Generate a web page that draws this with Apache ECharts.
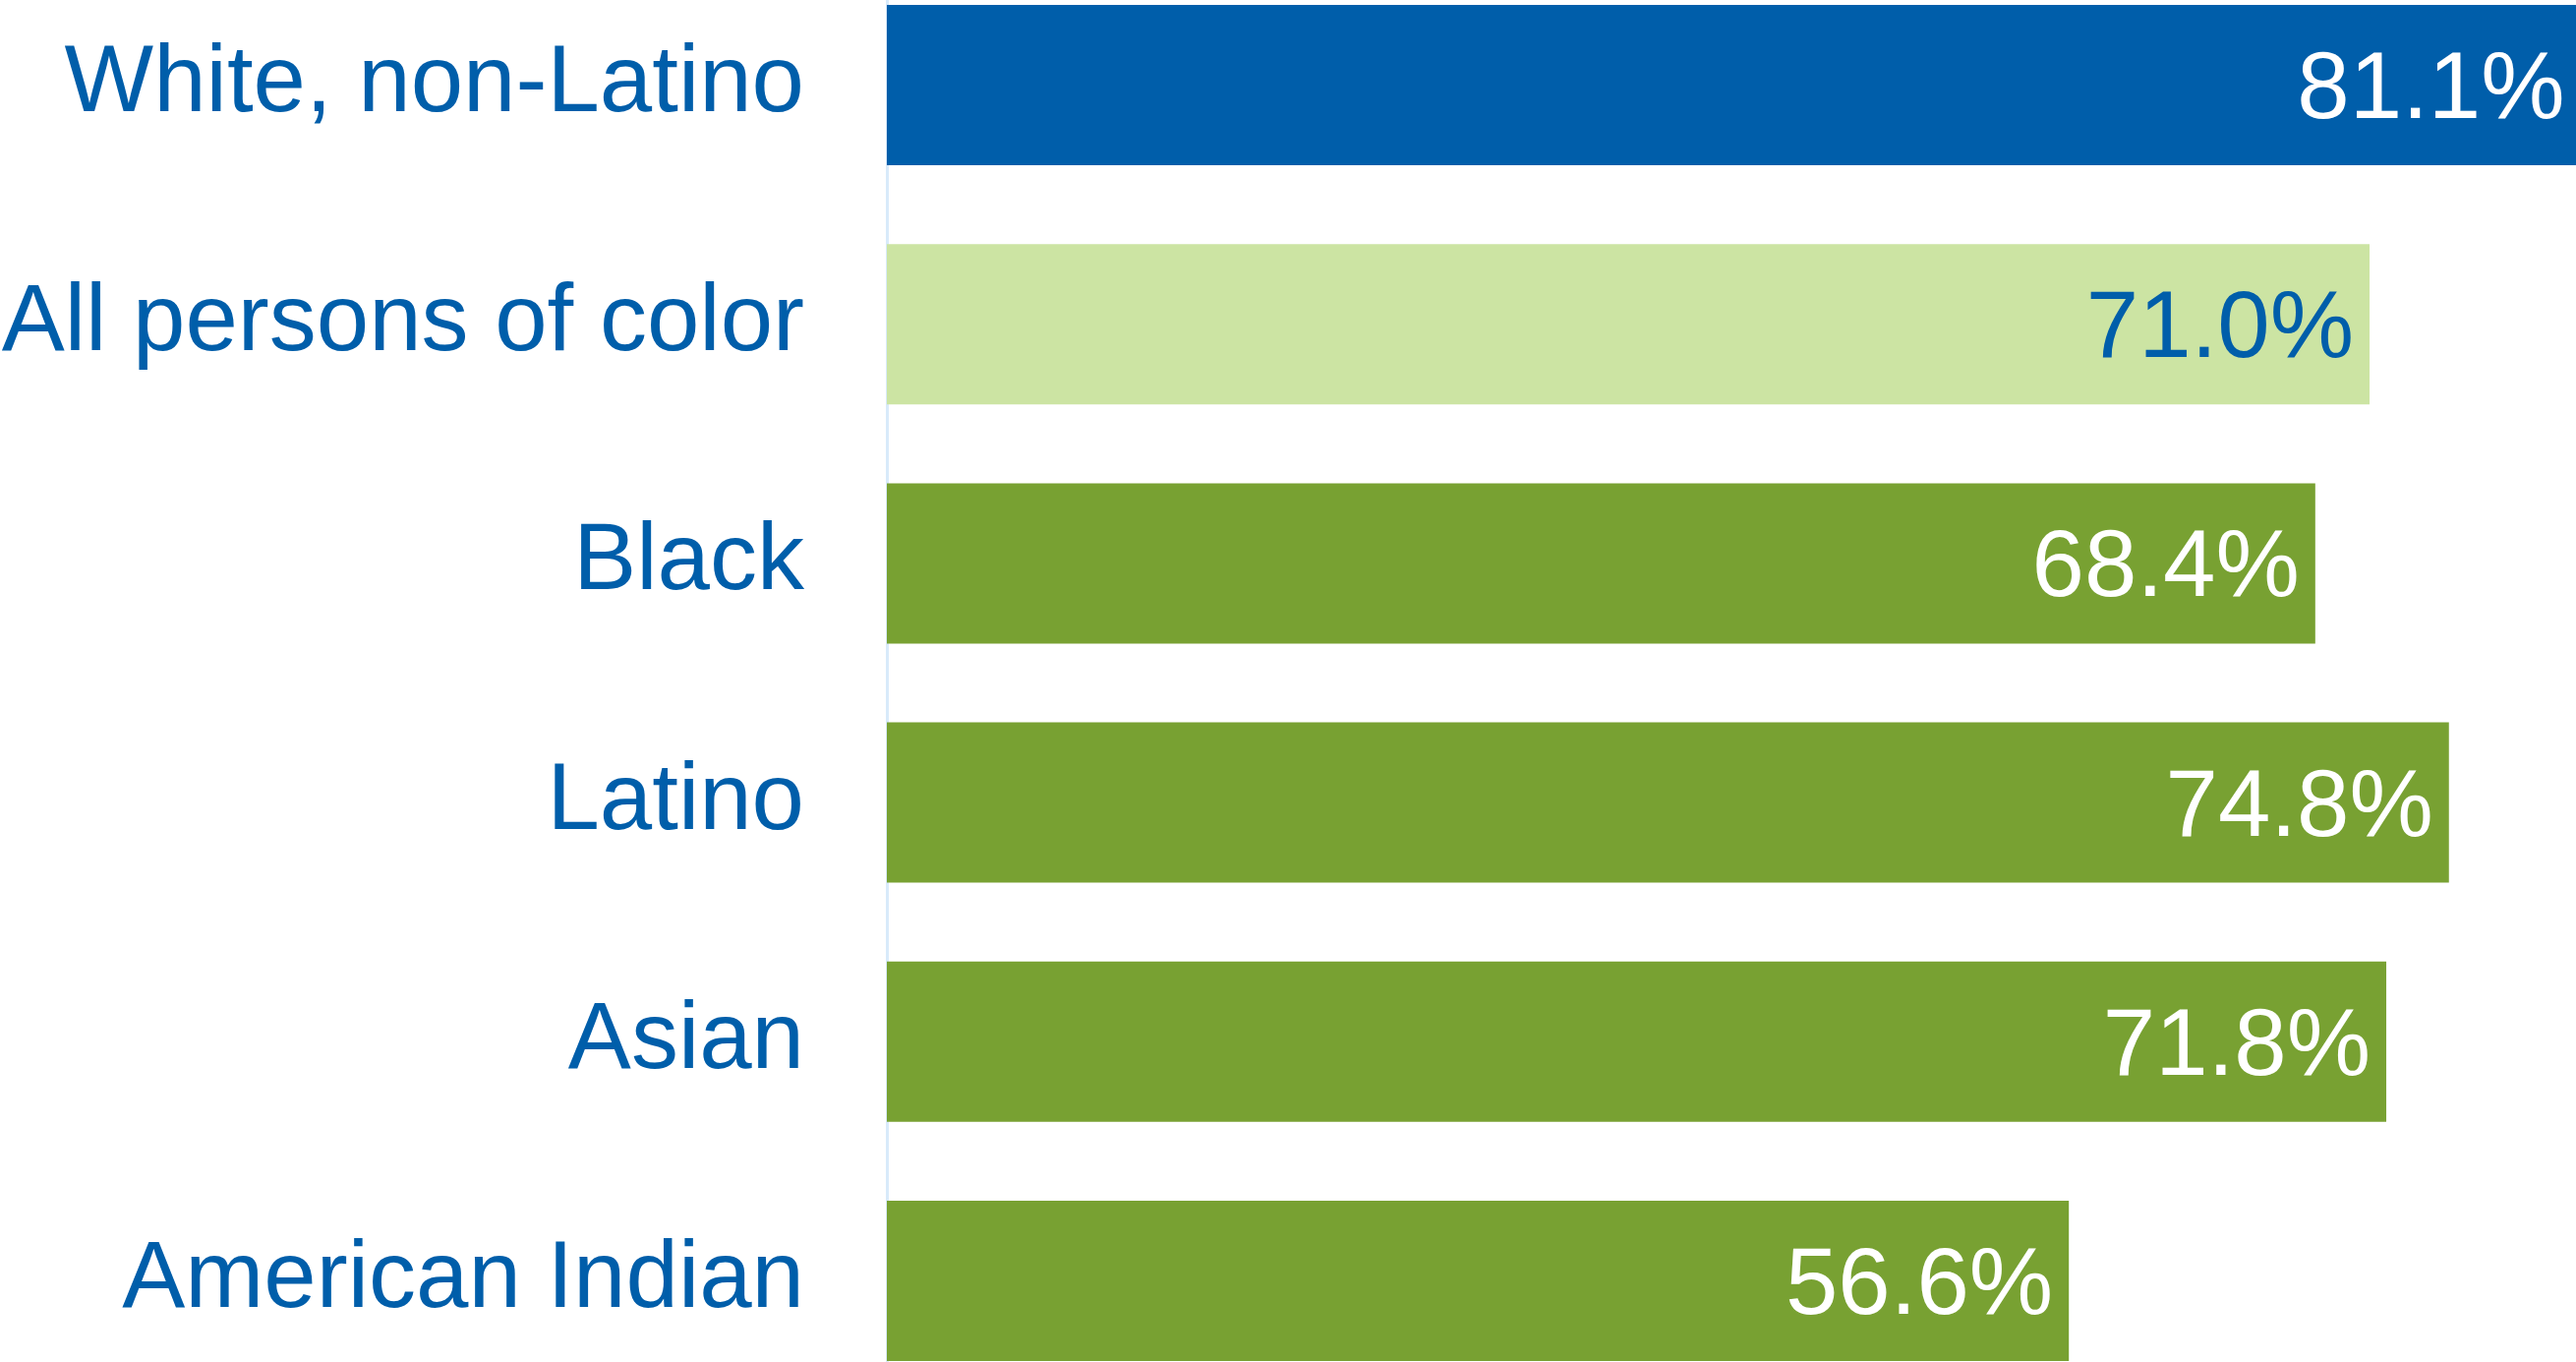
<!DOCTYPE html>
<html>
<head>
<meta charset="utf-8">
<style>
  html, body { margin: 0; padding: 0; background: #ffffff; }
  #chart { width: 2620px; height: 1385px; }
</style>
<script src="https://cdn.jsdelivr.net/npm/echarts@6/dist/echarts.min.js"></script>
</head>
<body>
<div id="chart"></div>
<script>
// Group names, top to bottom
const categories = [
  'White, non-Latino',
  'All persons of color',
  'Black',
  'Latino',
  'Asian',
  'American Indian'
];
// Rates in percent
const values = [81.1, 71.0, 68.4, 74.8, 71.8, 56.6];
// Bar fill per group
const barColors = ['#005eaa', '#cce4a3', '#78a132', '#78a132', '#78a132', '#78a132'];
// Value-label colour per group
const labelColors = ['#ffffff', '#005eaa', '#ffffff', '#ffffff', '#ffffff', '#ffffff'];

const chart = echarts.init(document.getElementById('chart'), null, { renderer: 'canvas' });

const font = '"Liberation Sans", Arial, sans-serif';

chart.setOption({
  animation: false,
  backgroundColor: '#ffffff',
  grid: {
    left: 902,
    top: -35,
    width: 2124,
    height: 1459,
    containLabel: false,
    outerBoundsMode: 'none'
  },
  xAxis: {
    type: 'value',
    min: 0,
    max: 100,
    show: false
  },
  yAxis: {
    type: 'category',
    inverse: true,
    data: categories,
    axisTick: { show: false },
    axisLine: { show: true, lineStyle: { color: '#d8eafa', width: 3 } },
    axisLabel: {
      margin: 84,
      fontSize: 96,
      fontFamily: font,
      color: '#005eaa',
      padding: [6, 0, 0, 0]
    },
    splitLine: { show: false }
  },
  series: [{
    type: 'bar',
    barCategoryGap: '33%',
    data: values.map((v, i) => ({
      value: v,
      itemStyle: { color: barColors[i] },
      label: { color: labelColors[i] }
    })),
    label: {
      show: true,
      position: 'insideRight',
      distance: 16,
      offset: [0, 7],
      fontSize: 96,
      fontFamily: font,
      formatter: p => p.value.toFixed(1) + '%'
    }
  }]
});
</script>
</body>
</html>
